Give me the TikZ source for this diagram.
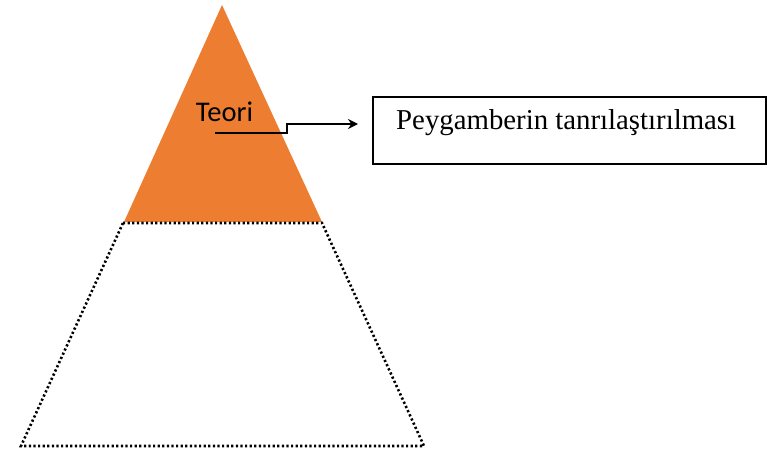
\documentclass[tikz,border=0pt]{standalone}
\usepackage{fontspec}
\setmainfont{Liberation Serif}
\newfontfamily\carlito{Carlito}
\usetikzlibrary{arrows.meta}
\definecolor{orng}{HTML}{ED7D31}
\begin{document}
\begin{tikzpicture}[x=1pt,y=1pt,
  dotline/.style={line width=2.6pt, dash pattern=on 2.2pt off 2.4pt},
  conn/.style={line width=2.2pt, -{Stealth[length=10pt,width=10pt]}}]
\useasboundingbox (0,0) rectangle (767,450);
% top triangle
\fill[orng] (222,445) -- (322,228) -- (124,228) -- cycle;
% dotted trapezoid
\draw[dotline] (123,227) -- (322,227) -- (424,4) -- (21,4) -- cycle;
% label
\node[font=\carlito\fontsize{28.5}{30}\selectfont, anchor=base, inner sep=0pt] (teori) at (224.5,328) {Teori};
% box
\node[draw, line width=2pt, minimum width=393pt, minimum height=67pt, anchor=north west, inner sep=0pt] (box) at (372,354) {};
\node[font=\fontsize{28.8}{30}\selectfont, anchor=base west, inner sep=0pt] (boxtext) at (396,320) {Peygamberin tanrılaştırılması};
% connector
\coordinate (s) at (215,317);
\coordinate (e) at ([xshift=-14pt]box.west |- 0,326);
\draw[conn] (s) -- (287,317) -- (287,326) -- (e);
\end{tikzpicture}
\end{document}
